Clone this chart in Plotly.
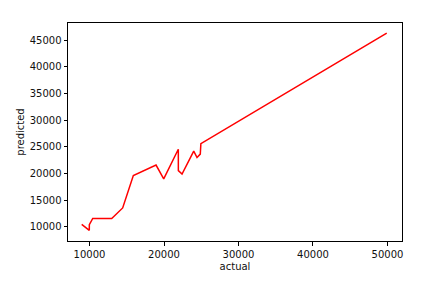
import plotly.graph_objects as go

actual = [8950, 9970, 9975, 10430, 12980, 14450, 15880, 18930, 19960, 21920, 21925,
          22420, 23990, 24430, 24870, 24950, 49900]
predicted = [10500, 9380, 10450, 11600, 11600, 13560, 19620, 21600, 19000, 24550, 20550,
             19900, 24200, 23000, 23650, 25600, 46300]

fig = go.Figure()
fig.add_trace(go.Scatter(x=actual, y=predicted, mode="lines",
                         line=dict(color="red", width=1.5), showlegend=False))

axis_common = dict(showline=True, linecolor="black", linewidth=1, mirror=True,
                   ticks="outside", ticklen=3.5, tickwidth=1, tickcolor="black",
                   showgrid=False, zeroline=False,
                   tickfont=dict(family="DejaVu Sans", size=10, color="#111"),
                   title_font=dict(family="DejaVu Sans", size=10, color="#111"))

fig.update_layout(
    width=434, height=283,
    margin=dict(l=68, r=32, t=23, b=42),
    plot_bgcolor="white", paper_bgcolor="white",
    xaxis=dict(range=[7110, 51950], tickvals=[10000, 20000, 30000, 40000, 50000],
               ticktext=["10000", "20000", "30000", "40000", "50000"],
               title=dict(text="actual", standoff=4), **axis_common),
    yaxis=dict(range=[7375, 48190],
               tickvals=[10000, 15000, 20000, 25000, 30000, 35000, 40000, 45000],
               ticktext=["10000", "15000", "20000", "25000", "30000", "35000", "40000", "45000"],
               title=dict(text="predicted", standoff=3), **axis_common),
)
fig.write_html("out.html")
